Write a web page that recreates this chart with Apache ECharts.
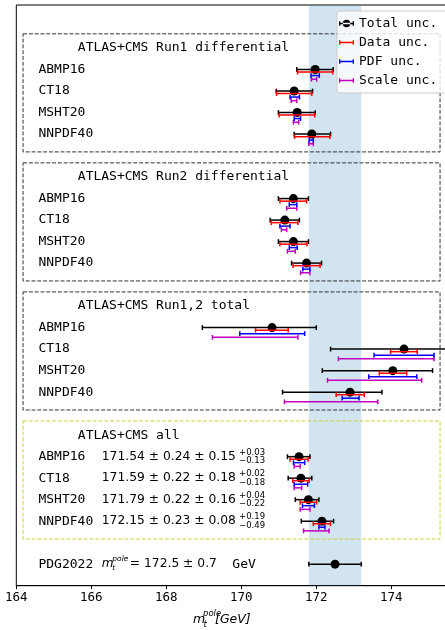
<!DOCTYPE html>
<html>
<head>
<meta charset="utf-8">
<script src="https://cdn.jsdelivr.net/npm/echarts@6/dist/echarts.min.js"></script>
<style>
  html, body { margin: 0; padding: 0; background: #fff; }
  #chart { width: 445px; height: 630px; }
</style>
</head>
<body>
<div id="chart"></div>
<script>
// PDF sets and groups
const pdfNames = ['ABMP16', 'CT18', 'MSHT20', 'NNPDF40']
const groupTitles = ['ATLAS+CMS Run1 differential', 'ATLAS+CMS Run2 differential', 'ATLAS+CMS Run1,2 total', 'ATLAS+CMS all']
const groupRow = [0, 6, 12, 18] // y row of each group title
const pdgRow = 24

// central values, 4 groups x 4 pdfs
const center = [171.97, 171.41, 171.49, 171.88, 171.39, 171.16, 171.39, 171.74, 170.82, 174.34, 174.04, 172.90, 171.54, 171.59, 171.79, 172.15]
// uncertainties (minus / plus)
const totLo = [0.49, 0.48, 0.50, 0.47, 0.40, 0.39, 0.40, 0.40, 1.86, 1.96, 1.88, 1.80, 0.31, 0.34, 0.35, 0.55]
const totHi = [0.48, 0.49, 0.48, 0.50, 0.40, 0.39, 0.40, 0.40, 1.18, 1.90, 1.06, 0.85, 0.29, 0.29, 0.28, 0.31]
const dataLo = [0.47, 0.47, 0.48, 0.46, 0.36, 0.36, 0.36, 0.36, 0.44, 0.36, 0.36, 0.37, 0.24, 0.22, 0.22, 0.23]
const dataHi = [0.47, 0.47, 0.47, 0.48, 0.35, 0.35, 0.36, 0.36, 0.43, 0.35, 0.37, 0.38, 0.24, 0.22, 0.22, 0.23]
const pdfLo = [0.11, 0.11, 0.08, 0.07, 0.11, 0.13, 0.11, 0.10, 0.86, 0.80, 0.64, 0.21, 0.15, 0.18, 0.16, 0.08]
const pdfHi = [0.11, 0.14, 0.09, 0.04, 0.09, 0.14, 0.10, 0.09, 0.87, 0.80, 0.64, 0.24, 0.15, 0.18, 0.16, 0.08]
const scaleLo = [0.10, 0.08, 0.10, 0.08, 0.18, 0.09, 0.16, 0.16, 1.59, 1.75, 1.74, 1.75, 0.13, 0.18, 0.22, 0.49]
const scaleHi = [0.04, 0.07, 0.04, 0.04, 0.09, 0.05, 0.05, 0.09, 0.69, 0.80, 0.77, 0.74, 0.03, 0.02, 0.04, 0.19]

// text of the combined fit
const allText = ['171.54 ± 0.24 ± 0.15', '171.59 ± 0.22 ± 0.18', '171.79 ± 0.22 ± 0.16', '172.15 ± 0.23 ± 0.08']
const allUp = ['+0.03', '+0.02', '+0.04', '+0.19']
const allDown = ['−0.13', '−0.18', '−0.22', '−0.49']

// PDG reference
const pdgValue = 172.5
const pdgErr = 0.7

// axis
const xMin = 164
const xMax = 175.6
const xStep = 2

const mono = '"DejaVu Sans Mono"'
const sans = '"DejaVu Sans"'
const offsets = { data: 0.12, pdf: 0.28, scale: 0.45 }
const LABEL_X = 164.59
const TITLE_X = 165.64
const VALUE_X = 166.28
const SUP_X = 169.94
const BOX_X0 = 164.18
const BOX_X1 = 175.3

const rowOf = k => groupRow[Math.floor(k / 4)] + 1 + (k % 4)

const makeBars = (lo, hi, off) => center.map((c, k) => [c, rowOf(k) + off, c - lo[k], c + hi[k]])
const totalData = makeBars(totLo, totHi, 0).concat([[pdgValue, pdgRow, pdgValue - pdgErr, pdgValue + pdgErr]])

const errorBar = (color, lw, cap, dot) => (params, api) => {
  const y = api.value(1)
  const a = api.coord([api.value(2), y])
  const b = api.coord([api.value(3), y])
  const st = { stroke: color, lineWidth: lw }
  const children = [
    { type: 'line', shape: { x1: a[0], y1: a[1], x2: b[0], y2: b[1] }, style: st },
    { type: 'line', shape: { x1: a[0], y1: a[1] - cap, x2: a[0], y2: a[1] + cap }, style: st },
    { type: 'line', shape: { x1: b[0], y1: b[1] - cap, x2: b[0], y2: b[1] + cap }, style: st },
  ]
  if (dot) {
    const c = api.coord([api.value(0), y])
    children.push({ type: 'circle', shape: { cx: c[0], cy: c[1], r: 4.5 }, style: { fill: color } })
  }
  return { type: 'group', children }
}

const txt = (x, y, text, font) => ({
  type: 'text', x, y,
  style: { text, font, fill: '#000', verticalAlign: 'middle', align: 'left' },
})

const renderBoxes = (params, api) => {
  const g = params.dataIndex
  const p0 = api.coord([BOX_X0, groupRow[g] - 0.66])
  const p1 = api.coord([BOX_X1, groupRow[g] + 4.83])
  return {
    type: 'rect',
    shape: { x: p0[0], y: p0[1], width: p1[0] - p0[0], height: p1[1] - p0[1] },
    style: { fill: 'none', stroke: g === 3 ? '#cfcf3a' : '#333', lineWidth: 1, lineDash: [4, 1.8] },
  }
}

const renderTexts = (params, api) => {
  const children = []
  groupRow.forEach((r, g) => {
    const t = api.coord([TITLE_X, r])
    children.push(txt(t[0], t[1], groupTitles[g], '13px ' + mono))
    pdfNames.forEach((n, i) => {
      const p = api.coord([LABEL_X, r + 1 + i])
      children.push(txt(p[0], p[1], n, '13px ' + mono))
      if (g === 3) {
        const v = api.coord([VALUE_X, r + 1 + i])
        children.push(txt(v[0], v[1], allText[i], '12.3px ' + sans))
        const s = api.coord([SUP_X, r + 1 + i])
        children.push(txt(s[0], s[1] - 4, allUp[i], '8.5px ' + sans))
        children.push(txt(s[0], s[1] + 4.5, allDown[i], '8.5px ' + sans))
      }
    })
  })
  const p = api.coord([LABEL_X, pdgRow])
  children.push(txt(p[0], p[1], 'PDG2022', '13px ' + mono))
  const v = api.coord([VALUE_X, pdgRow])
  children.push(txt(v[0], v[1], 'm', 'italic 12px ' + sans))
  children.push(txt(v[0] + 10.5, v[1] - 5, 'pole', 'italic 7.5px ' + sans))
  children.push(txt(v[0] + 10.5, v[1] + 4, 't', 'italic 7.5px ' + sans))
  children.push(txt(v[0] + 28, v[1], '= ' + pdgValue + ' ± ' + pdgErr, '12.3px ' + sans))
  children.push(txt(v[0] + 130.5, v[1], 'GeV', '13px ' + mono))
  return { type: 'group', children }
}

const iconBar = 'path://M0,2h1.8v6h-1.8z M0,4h20v2h-20z M18.2,2h1.8v6h-1.8z'
const iconTotal = 'path://M0,2h1.8v6h-1.8z M0,4h20v2h-20z M18.2,2h1.8v6h-1.8z M5,5a5,5 0 1,0 10,0a5,5 0 1,0 -10,0'

const chart = echarts.init(document.getElementById('chart'))
chart.setOption({
  animation: false,
  grid: { left: 16.3, top: 5, width: 435, height: 580.7, show: true, borderColor: '#000', borderWidth: 1,
    outerBoundsMode: 'none', containLabel: false },
  xAxis: {
    type: 'value', min: xMin, max: xMax, interval: xStep,
    axisLine: { show: true, onZero: false, lineStyle: { color: '#000', width: 1 } },
    axisTick: { show: true, length: 3.5, lineStyle: { color: '#000' } },
    axisLabel: { fontFamily: mono, fontSize: 12.5, color: '#000', margin: 6, showMaxLabel: false,
      formatter: v => (v % 2 === 0 ? String(v) : '') },
    splitLine: { show: false },
  },
  yAxis: { type: 'value', min: -2, max: 25, inverse: true, show: false },
  legend: {
    orient: 'vertical', left: 337, top: 11, padding: [5, 30, 5, 2], itemGap: 4,
    itemWidth: 15, itemHeight: 8, symbolKeepAspect: true,
    backgroundColor: 'rgba(255,255,255,0.8)', borderColor: '#cccccc', borderWidth: 1, borderRadius: 3,
    textStyle: { fontFamily: mono, fontSize: 13, color: '#000', lineHeight: 15 },
    data: [
      { name: 'Total unc.', icon: iconTotal },
      { name: 'Data unc.', icon: iconBar },
      { name: 'PDF unc.', icon: iconBar },
      { name: 'Scale unc.', icon: iconBar },
    ],
  },
  series: [
    {
      type: 'custom', name: 'boxes', z: 1, silent: true,
      data: groupRow.map(r => [BOX_X0, r]),
      renderItem: renderBoxes,
      markArea: { silent: true, itemStyle: { color: 'rgba(31,119,180,0.2)' },
        data: [[{ xAxis: pdgValue - pdgErr }, { xAxis: pdgValue + pdgErr }]] },
    },
    { type: 'custom', name: 'texts', z: 2, silent: true, data: [[LABEL_X, 0]], renderItem: renderTexts },
    { type: 'custom', name: 'Scale unc.', z: 3, itemStyle: { color: '#bf00bf' }, encode: { x: [0, 2, 3], y: 1 },
      data: makeBars(scaleLo, scaleHi, offsets.scale), renderItem: errorBar('#bf00bf', 1.5, 2.4) },
    { type: 'custom', name: 'PDF unc.', z: 3, itemStyle: { color: '#0000ff' }, encode: { x: [0, 2, 3], y: 1 },
      data: makeBars(pdfLo, pdfHi, offsets.pdf), renderItem: errorBar('#0000ff', 1.5, 2.4) },
    { type: 'custom', name: 'Total unc.', z: 4, itemStyle: { color: '#000000' }, encode: { x: [0, 2, 3], y: 1 },
      data: totalData, renderItem: errorBar('#000000', 1.5, 2.4, true) },
    { type: 'custom', name: 'Data unc.', z: 5, itemStyle: { color: '#ff0000' }, encode: { x: [0, 2, 3], y: 1 },
      data: makeBars(dataLo, dataHi, offsets.data), renderItem: errorBar('#ff0000', 1.5, 2.4) },
  ],
  graphic: [
    { type: 'text', left: 193, top: 613, style: { text: 'm', font: 'italic 12.5px ' + sans, fill: '#000' } },
    { type: 'text', left: 203, top: 609, style: { text: 'pole', font: 'italic 8.5px ' + sans, fill: '#000' } },
    { type: 'text', left: 203.5, top: 620, style: { text: 't', font: 'italic 8.5px ' + sans, fill: '#000' } },
    { type: 'text', left: 215, top: 613, style: { text: '[GeV]', font: 'italic 12.5px ' + sans, fill: '#000' } },
  ],
})
</script>
</body>
</html>
